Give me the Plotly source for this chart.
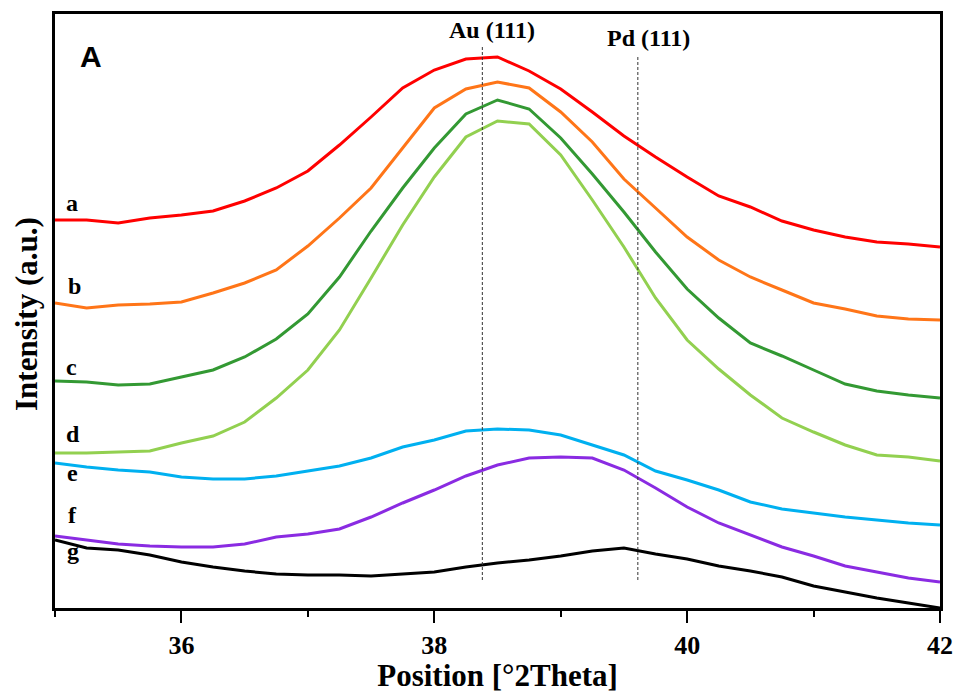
import plotly.graph_objects as go

# 2-theta positions (degrees)
two_theta = [35.00, 35.25, 35.50, 35.75, 36.00, 36.25, 36.50, 36.75, 37.00, 37.25,
             37.50, 37.75, 38.00, 38.25, 38.50, 38.75, 39.00, 39.25, 39.50, 39.75,
             40.00, 40.25, 40.50, 40.75, 41.00, 41.25, 41.50, 41.75, 42.00]

# intensities (a.u., stacked/offset as in the figure)
series_a = [388, 388, 385, 390, 393, 397, 407, 420, 437, 463, 491, 520, 538, 549, 551,
            537, 519, 496, 472, 451, 431, 412, 401, 387, 378, 371, 366, 364, 361]
series_b = [305, 300, 303, 304, 306, 315, 325, 338, 362, 390, 420, 460, 500, 519, 526,
            520, 496, 466, 429, 400, 371, 348, 331, 318, 305, 299, 292, 289, 288]
series_c = [227, 226, 223, 224, 231, 238, 251, 269, 294, 331, 377, 420, 460, 494, 508,
            499, 470, 434, 396, 356, 319, 290, 265, 252, 238, 224, 217, 213, 210]
series_d = [155, 155, 156, 157, 165, 172, 186, 210, 238, 278, 330, 383, 431, 471, 487,
            484, 453, 408, 361, 310, 268, 239, 213, 190, 176, 163, 153, 151, 147]
series_e = [145, 141, 138, 136, 131, 129, 129, 132, 137, 142, 150, 161, 168, 177, 179,
            178, 173, 163, 153, 137, 128, 118, 106, 99, 95, 91, 88, 85, 83]
series_f = [72, 68, 64, 62, 61, 61, 64, 71, 74, 79, 91, 105, 118, 132, 143,
            150, 151, 150, 138, 120, 101, 85, 73, 61, 52, 42, 36, 30, 26]
series_g = [68, 60, 58, 53, 46, 41, 37, 34, 33, 33, 32, 34, 36, 41, 45,
            48, 52, 57, 60, 54, 49, 42, 37, 31, 22, 16, 10, 5, 0]

series_names = ["a", "b", "c", "d", "e", "f", "g"]
series_colors = ["#FF0000", "#FF7518", "#339933", "#92D050", "#00B0F0", "#8A2BE2", "#000000"]

# reference peak positions
peak_labels = ["Au (111)", "Pd (111)"]
peak_positions = [38.38, 39.61]
peak_tops = [563, 553]
peak_bottom = 28

x_tickvals = [36, 38, 40, 42]
x_ticktext = ["36", "38", "40", "42"]

W, H = 963, 693
L, R, T, B = 55, 23, 14, 85
PW, PH = W - L - R, H - T - B


def px(x):
    return (x - L) / PW


def py(y):
    return (H - B - y) / PH


SERIF = "Liberation Serif, Times New Roman, serif"

fig = go.Figure()
all_series = [series_a, series_b, series_c, series_d, series_e, series_f, series_g]
for name, ys, col in zip(series_names, all_series, series_colors):
    fig.add_trace(go.Scatter(x=two_theta, y=ys, mode="lines", name=name,
                             line=dict(color=col, width=3), showlegend=False))

for pos, top in zip(peak_positions, peak_tops):
    fig.add_trace(go.Scatter(x=[pos, pos], y=[peak_bottom, top], mode="lines",
                             line=dict(color="#333333", width=1, dash="3px,2px"),
                             showlegend=False, hoverinfo="skip"))

annotations = []
# series letters
letter_pos = [(72, 203), (74, 286), (71, 367), (73, 434), (72, 473), (72, 515), (73, 551)]
for name, (lx, ly) in zip(series_names, letter_pos):
    annotations.append(dict(x=px(lx), y=py(ly), xref="paper", yref="paper", text=name,
                            showarrow=False, xanchor="center", yanchor="middle",
                            font=dict(family=SERIF, size=24, color="black", weight="bold")))
# peak labels
for lab, (lx, ly) in zip(peak_labels, [(492, 30), (648, 38)]):
    annotations.append(dict(x=px(lx), y=py(ly), xref="paper", yref="paper", text=lab,
                            showarrow=False, xanchor="center", yanchor="middle",
                            font=dict(family=SERIF, size=24, color="black", weight="bold")))
# panel letter
annotations.append(dict(x=px(91), y=py(56), xref="paper", yref="paper", text="A",
                        showarrow=False, xanchor="center", yanchor="middle",
                        font=dict(family="Liberation Sans, Arial, sans-serif", size=30,
                                  color="black", weight="bold")))
# y-axis title
annotations.append(dict(x=px(27), y=py(314), xref="paper", yref="paper", text="Intensity (a.u.)",
                        showarrow=False, xanchor="center", yanchor="middle", textangle=-90,
                        font=dict(family=SERIF, size=31, color="black", weight="bold")))

fig.update_layout(
    width=W, height=H,
    margin=dict(l=L, r=R, t=T, b=B, pad=0, autoexpand=False),
    paper_bgcolor="white", plot_bgcolor="white",
    annotations=annotations,
    xaxis=dict(range=[35, 42], tickvals=x_tickvals, ticktext=x_ticktext,
               ticks="outside", ticklen=12, tickwidth=1.5, tickcolor="black",
               minor=dict(dtick=1, tick0=35, ticks="outside", ticklen=6, tickwidth=1.5, tickcolor="black"),
               showline=True, linecolor="black", linewidth=2.5, mirror=True,
               showgrid=False, zeroline=False, automargin=False,
               tickfont=dict(family=SERIF, size=26, color="black", weight="bold"),
               title=dict(text="Position [°2Theta]", standoff=2,
                          font=dict(family=SERIF, size=31, color="black", weight="bold"))),
    yaxis=dict(range=[0, 594], showticklabels=False, ticks="",
               showline=True, linecolor="black", linewidth=2.5, mirror=True,
               showgrid=False, zeroline=False, automargin=False),
)

fig.write_html("out.html", config={"displayModeBar": False},
               post_script="document.body.style.margin='0';document.body.style.padding='0';")
